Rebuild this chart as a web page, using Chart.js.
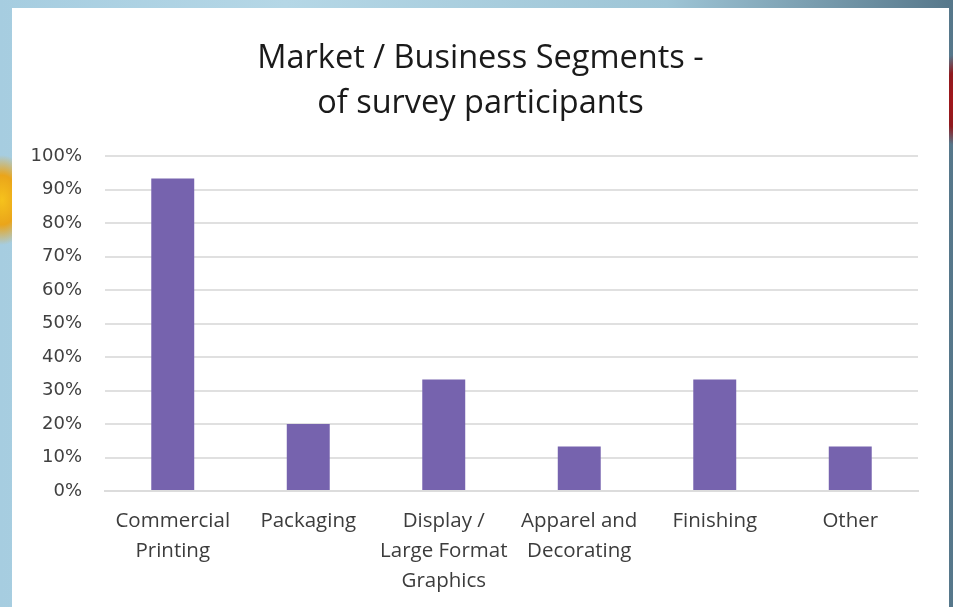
<!DOCTYPE html>
<html>
<head>
<meta charset="utf-8">
<script src="https://cdn.jsdelivr.net/npm/chart.js@4"></script>
<style>
  html, body { margin: 0; padding: 0; }
  body {
    width: 953px; height: 607px; overflow: hidden; position: relative;
    background:
      radial-gradient(ellipse 30px 45px at 2px 200px, #f6c21c 0%, #eaa51a 55%, rgba(234,165,26,0) 100%),
      radial-gradient(ellipse 14px 45px at 953px 100px, #a3161b 0%, #8f1a1f 60%, rgba(143,26,31,0) 100%),
      linear-gradient(90deg, #a6cde0 0%, #b5d7e6 30%, #9ec5d6 70%, #56778a 100%);
  }
  #card {
    position: absolute; left: 12px; top: 8px; width: 937px; height: 599px;
    background: #ffffff;
  }
  canvas { display: block; }
</style>
</head>
<body>
<div id="card"><canvas id="chart" width="937" height="599"></canvas></div>
<script>
// Share of survey participants in each market / business segment
const categories = [
  ['Commercial', 'Printing'],
  'Packaging',
  ['Display /', 'Large Format', 'Graphics'],
  ['Apparel and', 'Decorating'],
  'Finishing',
  'Other'
];
const shares = [93.3, 20.0, 33.3, 13.3, 33.3, 13.3];
const yTicks = [0, 10, 20, 30, 40, 50, 60, 70, 80, 90, 100];
const titleLines = ['Market / Business Segments -', 'of survey participants'];

new Chart(document.getElementById('chart'), {
  type: 'bar',
  data: {
    labels: categories,
    datasets: [{
      data: shares,
      backgroundColor: '#7663ae',
      borderWidth: 0,
      categoryPercentage: 1.0,
      barPercentage: 0.317
    }]
  },
  options: {
    responsive: false,
    animation: false,
    layout: { padding: { left: 0, right: 0, top: 28, bottom: 0 } },
    plugins: {
      legend: { display: false },
      tooltip: { enabled: false },
      title: {
        display: true,
        text: titleLines,
        color: '#1a1a1a',
        font: { family: 'Open Sans', size: 32.5, weight: 'normal', lineHeight: 1.385 },
        padding: { top: 0, bottom: 30 }
      }
    },
    scales: {
      x: {
        afterFit: (axis) => { axis.height = 116; },
        grid: { display: false, drawTicks: false },
        border: { display: true, color: '#dcdcdc', width: 2 },
        ticks: {
          color: '#3c3c3c',
          font: { family: 'Open Sans', size: 20.5, lineHeight: 1.46 },
          padding: 15,
          maxRotation: 0, autoSkip: false
        }
      },
      y: {
        min: 0, max: 100,
        afterFit: (axis) => { axis.width = 93; },
        afterBuildTicks: (axis) => { axis.ticks = yTicks.map(v => ({ value: v })); },
        grid: { color: '#e0e0e0', lineWidth: 2, drawTicks: false },
        border: { display: false },
        ticks: {
          color: '#404040',
          font: { family: 'DejaVu Sans', size: 18 },
          padding: 23,
          callback: (v) => v + '%'
        }
      },
      // blank right-hand margin so the plot ends short of the card edge
      // while the title stays centred on the whole card
      yMargin: {
        position: 'right',
        display: true,
        min: 0, max: 100,
        afterFit: (axis) => { axis.width = 31; },
        grid: { display: false, drawTicks: false },
        border: { display: false },
        ticks: { display: false }
      }
    }
  }
});
</script>
</body>
</html>
